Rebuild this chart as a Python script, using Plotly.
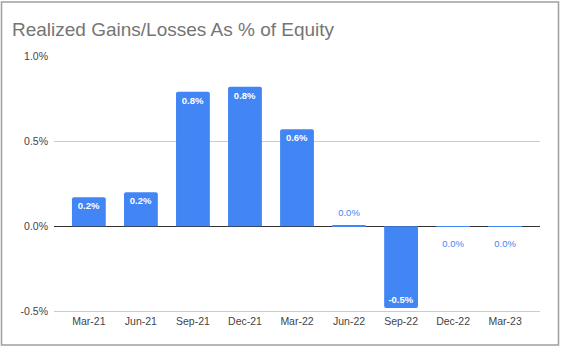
import plotly.graph_objects as go

categories = ["Mar-21", "Jun-21", "Sep-21", "Dec-21", "Mar-22", "Jun-22", "Sep-22", "Dec-22", "Mar-23"]
values = [0.17, 0.20, 0.79, 0.82, 0.57, 0.006, -0.48, -0.0001, -0.0001]
inside_label = [True, True, True, True, True, False, True, False, False]
y_ticks = [-0.5, 0.0, 0.5, 1.0]

BLUE = "#4285f4"
FONT = "Liberation Sans, Arial, sans-serif"

xs = list(range(len(categories)))

fig = go.Figure()
fig.add_trace(go.Bar(
    x=xs,
    y=values,
    marker=dict(color=BLUE, cornerradius=2, line=dict(width=0)),
    text=[f"{v:.1f}%" if ins else "" for v, ins in zip(values, inside_label)],
    textposition=["inside" if ins else "none" for ins in inside_label],
    insidetextanchor="end",
    insidetextfont=dict(color="white", size=9.5, family=FONT, weight="bold"),
    textangle=0,
    hoverinfo="skip",
))

# labels for near-zero bars, drawn just outside the bar
ox = [x for x, ins in zip(xs, inside_label) if not ins]
oy = [v for v, ins in zip(values, inside_label) if not ins]
fig.add_trace(go.Scatter(
    x=ox, y=oy, mode="markers+text",
    marker=dict(size=[10 if v >= 0 else 20 for v in oy], opacity=0),
    text=[f"{abs(v):.1f}%" for v in oy],
    textposition=["top center" if v >= 0 else "bottom center" for v in oy],
    textfont=dict(color=BLUE, size=9.5, family=FONT),
    hoverinfo="skip", cliponaxis=False,
))

W, H = 561, 349
L, R, T, B = 54, 21, 56, 36
pw, ph = W - L - R, H - T - B

def px_x(px):
    return (px - L) / pw

def px_y(py):
    return (H - B - py) / ph

fig.add_shape(type="rect", xref="paper", yref="paper",
              x0=px_x(1.5), x1=px_x(558.5), y0=px_y(345), y1=px_y(2),
              line=dict(color="#9e9e9e", width=1.5), fillcolor="rgba(0,0,0,0)", layer="below")

fig.update_layout(
    width=W, height=H,
    margin=dict(l=L, r=R, t=T, b=B, pad=0),
    paper_bgcolor="white", plot_bgcolor="white",
    showlegend=False,
    bargap=0.35,
    font=dict(family=FONT, color="#444444"),
    title=dict(text="Realized Gains/Losses As % of Equity",
               x=12 / W, xanchor="left",
               y=1 - 29 / H, yanchor="middle",
               font=dict(size=19, color="#757575", family=FONT)),
    xaxis=dict(
        tickmode="array", tickvals=xs, ticktext=categories,
        range=[-0.67, 8.67], showgrid=False, zeroline=False, showline=False,
        ticks="", tickfont=dict(size=10.5, color="#444444"), fixedrange=True,
    ),
    yaxis=dict(
        range=[-0.51, 1.0], tickmode="array", tickvals=y_ticks,
        ticktext=[f"{v:.1f}%" for v in y_ticks],
        showgrid=True, gridcolor="#cccccc", gridwidth=1,
        zeroline=True, zerolinecolor="#333333", zerolinewidth=1,
        showline=False, ticks="", ticklabelstandoff=5,
        tickfont=dict(size=10.5, color="#444444"), fixedrange=True,
    ),
)

fig.write_html("out.html")
